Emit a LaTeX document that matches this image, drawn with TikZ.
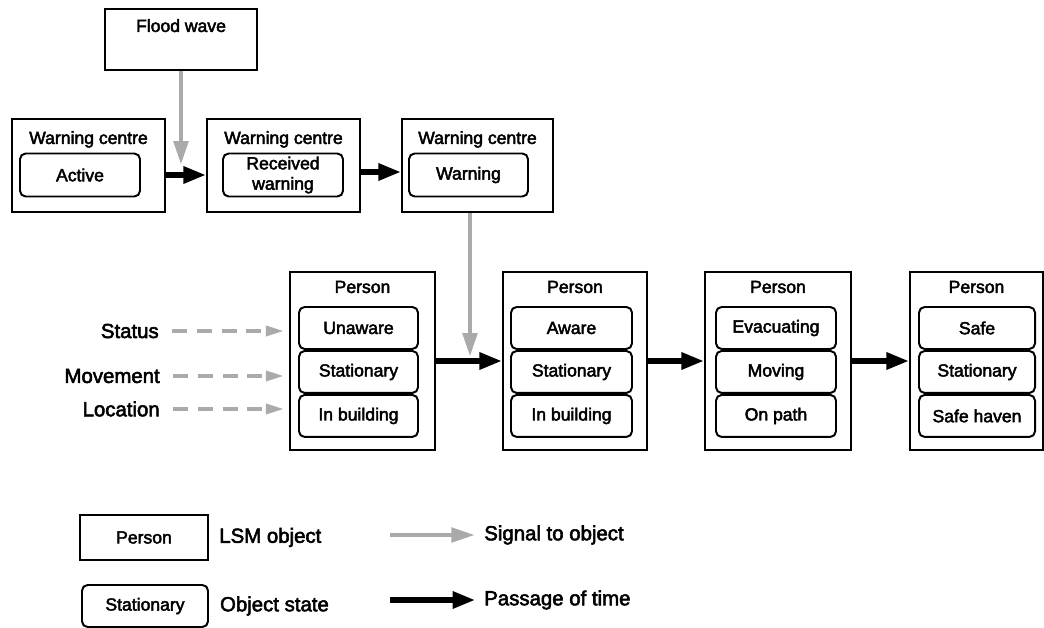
\documentclass[tikz,border=0pt]{standalone}
\usepackage{fontspec}
\setmainfont{Liberation Sans}[FakeBold=2.6, AutoFakeBold=2.6]
\usepackage{tikz}
\usetikzlibrary{positioning, arrows.meta, calc}
\definecolor{signalgrey}{HTML}{AAAAAA}
\newcommand{\boxfont}{\fontsize{12.5}{14.5}\selectfont\bfseries}
\newcommand{\lblfont}{\fontsize{14.5}{16}\selectfont\bfseries}

\tikzset{
  objbox/.style 2 args={draw, line width=1.5pt, inner sep=0pt,
    minimum width=#1*0.025cm, minimum height=#2*0.025cm},
  statebox/.style 2 args={draw, line width=1.4pt, rounded corners=4pt, inner sep=0pt,
    minimum width=#1*0.025cm, minimum height=#2*0.025cm, font=\boxfont, align=center},
  ttl/.style={font=\boxfont, inner sep=0pt, anchor=base},
  lbl/.style={font=\lblfont, inner sep=0pt},
  timearrow/.style={line width=3.8pt, -{Triangle[length=16pt, width=11.5pt]}},
  signalarrow/.style={signalgrey, line width=3.5pt, -{Triangle[length=17pt, width=10pt]}},
  attrarrow/.style={signalgrey, line width=2.8pt, dash pattern=on 10.6pt off 7pt,
    -{Triangle[length=13pt, width=7pt]}},
}

\begin{document}
\begin{tikzpicture}[x=0.025cm, y=-0.025cm]
  \useasboundingbox (0,0) rectangle (1044,628);

  % flood wave and warning centre
  \node[objbox={152}{61}] (flood) at (181,39.5) {};
  \node[ttl] (floodttl) at ($(flood.north)+(0,24)$) {Flood wave};

  \node[objbox={153}{93}] (w1) at (88.5,165.5) {};
  \node[ttl] at ($(w1.north)+(0,26)$) {Warning centre};
  \node[statebox={120}{43}] (w1s) at (80,175) {Active};

  \node[objbox={153}{93}] (w2) at (283.5,165.5) {};
  \node[ttl] at ($(w2.north)+(0,26)$) {Warning centre};
  \node[statebox={120}{43}] (w2s) at (283,175) {Received\\warning};

  \node[objbox={151}{93}] (w3) at (477.5,165.5) {};
  \node[ttl] at ($(w3.north)+(0,26)$) {Warning centre};
  \node[statebox={119}{43}] (w3s) at (468.5,175) {Warning};

  % person objects
  \node[objbox={145}{178}] (p1) at (362.5,361) {};
  \node[ttl] at ($(p1.north)+(0,22)$) {Person};
  \node[statebox={119}{42}] (p1a) at (358.5,328) {Unaware};
  \node[statebox={119}{42}, below=0pt of p1a] (p1b) {Stationary};
  \node[statebox={119}{42}, below=0pt of p1b] (p1c) {In building};

  \node[objbox={144}{178}] (p2) at (575,361) {};
  \node[ttl] at ($(p2.north)+(0,22)$) {Person};
  \node[statebox={121}{42}] (p2a) at (571.5,328) {Aware};
  \node[statebox={121}{42}, below=0pt of p2a] (p2b) {Stationary};
  \node[statebox={121}{42}, below=0pt of p2b] (p2c) {In building};

  \node[objbox={146}{178}] (p3) at (778,361) {};
  \node[ttl] at ($(p3.north)+(0,22)$) {Person};
  \node[statebox={120}{42}] (p3a) at (776,328) {Evacuating};
  \node[statebox={120}{42}, below=0pt of p3a] (p3b) {Moving};
  \node[statebox={120}{42}, below=0pt of p3b] (p3c) {On path};

  \node[objbox={133}{178}] (p4) at (976.5,361) {};
  \node[ttl] at ($(p4.north)+(0,22)$) {Person};
  \node[statebox={116}{42}] (p4a) at (977,328) {Safe};
  \node[statebox={116}{42}, below=0pt of p4a] (p4b) {Stationary};
  \node[statebox={116}{42}, below=0pt of p4b] (p4c) {Safe haven};

  % attribute labels
  \node[lbl, anchor=east] (status) at (159,331) {Status};
  \node[lbl, anchor=east] (movement) at (160,376) {Movement};
  \node[lbl, anchor=east] (location) at (160,409) {Location};
  \foreach \a in {status, movement, location}
    \draw[attrarrow, shorten <=0.33cm, shorten >=0.12cm] (\a.east) -- (\a.east -| p1.west);

  % signals
  \coordinate (fwin) at ($(flood.south)+(0,94)$);
  \draw[signalarrow] (flood.south) -- (fwin);
  \coordinate (sigin) at (470,357);
  \draw[signalarrow] (sigin |- w3.south) -- (sigin);

  % passage of time
  \draw[timearrow] (w1.east |- w1s) -- (w2.west |- w1s);
  \draw[timearrow] (w2.east |- 0,172) -- (w3.west |- 0,172);
  \draw[timearrow] (p1.east) -- (p2.west);
  \draw[timearrow] (p2.east) -- (p3.west);
  \draw[timearrow] (p3.east) -- (p4.west);

  % legend
  \node[objbox={128}{45}, font=\boxfont] (lgobj) at (144,537.5) {Person};
  \node[lbl, right=0.25cm of lgobj] (lgobjtxt) {LSM object};
  \node[statebox={126}{42}] (lgstate) at (145,606) {Stationary};
  \node[lbl, right=0.27cm of lgstate] (lgstatetxt) {Object state};

  \node[lbl, anchor=west] (sigtxt) at (484,535) {Signal to object};
  \coordinate (sigfrom) at (390,535);
  \draw[signalarrow, shorten >=0.22cm] (sigfrom) -- (sigtxt.west);
  \node[lbl, anchor=west] (timetxt) at (484,600) {Passage of time};
  \coordinate (timefrom) at (390,600);
  \draw[timearrow, shorten >=0.22cm] (timefrom) -- (timetxt.west);
\end{tikzpicture}
\end{document}
